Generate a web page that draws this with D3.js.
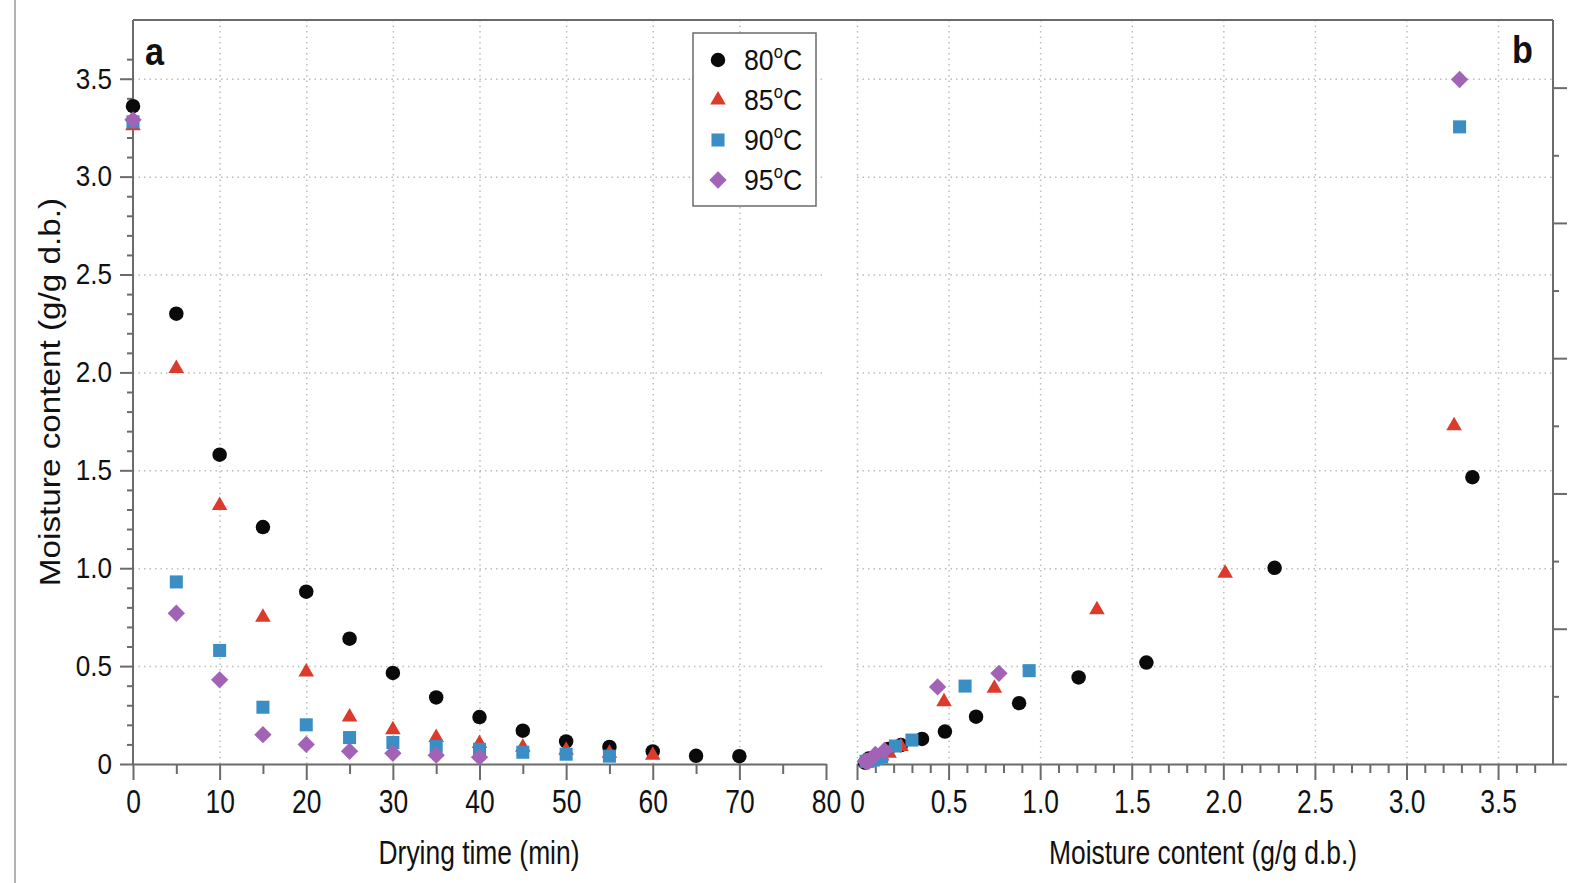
<!DOCTYPE html>
<html>
<head>
<meta charset="utf-8">
<script src="https://cdn.jsdelivr.net/npm/d3@7"></script>
<style>
  body { margin: 0; background: #fff; }
  svg text { font-family: "Liberation Sans", Arial, Helvetica, sans-serif; fill: #111; }
  .grid line { stroke: #bdbdbd; stroke-width: 1.5; stroke-dasharray: 1.5 4; }
  .grid path { display: none; }
  .axis path, .axis line { stroke: #6b6b6b; stroke-width: 2; }
</style>
</head>
<body>
<div id="chart"></div>
<script>
// ---- data ----
// panel a: moisture content vs drying time
const time80 = [0, 5, 10, 15, 20, 25, 30, 35, 40, 45, 50, 55, 60, 65, 70];
const mc80 = [3.36, 2.30, 1.58, 1.21, 0.88, 0.64, 0.465, 0.34, 0.24, 0.17, 0.115, 0.087, 0.064, 0.042, 0.040];
const time85 = [0, 5, 10, 15, 20, 25, 30, 35, 40, 45, 50, 55, 60];
const mc85 = [3.26, 2.02, 1.32, 0.75, 0.47, 0.24, 0.175, 0.135, 0.105, 0.085, 0.07, 0.055, 0.045];
const time90 = [0, 5, 10, 15, 20, 25, 30, 35, 40, 45, 50, 55];
const mc90 = [3.28, 0.93, 0.58, 0.29, 0.20, 0.135, 0.11, 0.09, 0.075, 0.06, 0.05, 0.04];
const time95 = [0, 5, 10, 15, 20, 25, 30, 35, 40];
const mc95 = [3.29, 0.77, 0.43, 0.15, 0.10, 0.065, 0.055, 0.045, 0.035];

// panel b: drying rate vs moisture content
const mcB80 = [3.36, 2.28, 1.58, 1.21, 0.885, 0.65, 0.48, 0.355, 0.24, 0.17, 0.115, 0.087, 0.064, 0.044];
const rate80 = [0.212, 0.145, 0.075, 0.064, 0.045, 0.035, 0.024, 0.0185, 0.014, 0.011, 0.006, 0.0045, 0.004, 0.001];
const mcB85 = [3.26, 2.01, 1.31, 0.75, 0.475, 0.24, 0.175, 0.135, 0.105, 0.085, 0.07, 0.055];
const rate85 = [0.250, 0.141, 0.114, 0.056, 0.046, 0.013, 0.008, 0.006, 0.004, 0.003, 0.003, 0.002];
const mcB90 = [3.29, 0.94, 0.59, 0.30, 0.21, 0.135, 0.11, 0.09, 0.075, 0.06, 0.05];
const rate90 = [0.471, 0.069, 0.0576, 0.0177, 0.0133, 0.005, 0.004, 0.003, 0.003, 0.002, 0.002];
const mcB95 = [3.29, 0.775, 0.44, 0.15, 0.10, 0.065, 0.055, 0.045];
const rate95 = [0.506, 0.067, 0.057, 0.010, 0.007, 0.002, 0.002, 0.002];

const seriesNames = ["80", "85", "90", "95"];
const colors = ["#0a0a0a", "#dc3a2b", "#3b8ec4", "#a263b7"];

const width = 1571, height = 883;
const svg = d3.select("#chart").append("svg")
    .attr("width", width)
    .attr("height", height);

// frame line on the far left of the figure
svg.append("line").attr("x1", 15).attr("x2", 15).attr("y1", 0).attr("y2", height)
    .attr("stroke", "#9a9a9a").attr("stroke-width", 1.5);

const plotTop = 20, plotBottom = 764;

// scales
const xA = d3.scaleLinear().domain([0, 80]).range([133, 826]);
const yA = d3.scaleLinear().domain([0, 3.8]).range([plotBottom, plotTop]);
const xB = d3.scaleLinear().domain([0, 3.8]).range([857, 1553]);
const yB = d3.scaleLinear().domain([0, 0.55]).range([plotBottom, plotTop]);

const fmt1 = d => d === 0 ? "0" : d3.format(".1f")(d);
const gridY = [0.5, 1, 1.5, 2, 2.5, 3, 3.5];

// the figure's type is narrow, squeeze text horizontally
function squeeze(sel, size, k) {
  sel.style("font-size", size + "px").each(function() {
    const t = d3.select(this);
    const x = +t.attr("x") || 0;
    t.attr("x", x / k).attr("transform", `scale(${k},1)`);
  });
}

// ---- grid lines ----
svg.append("g").attr("class", "grid")
    .attr("transform", `translate(0,${plotTop})`)
    .call(d3.axisBottom(xA).tickValues([10, 20, 30, 40, 50, 60, 70]).tickSize(plotBottom - plotTop).tickFormat(""));
svg.append("g").attr("class", "grid")
    .attr("transform", `translate(${xA.range()[0]},0)`)
    .call(d3.axisRight(yA).tickValues(gridY).tickSize(xA.range()[1] - xA.range()[0]).tickFormat(""));
svg.append("g").attr("class", "grid")
    .attr("transform", `translate(0,${plotTop})`)
    .call(d3.axisBottom(xB).tickValues([0, 0.5, 1, 1.5, 2, 2.5, 3, 3.5]).tickSize(plotBottom - plotTop).tickFormat(""));
svg.append("g").attr("class", "grid")
    .attr("transform", `translate(${xB.range()[0]},0)`)
    .call(d3.axisRight(yA).tickValues(gridY).tickSize(xB.range()[1] - xB.range()[0]).tickFormat(""));

// ---- axes ----
function styleTicks(g, isMajor, majorLen, minorLen, dir) {
  g.selectAll(".tick line").each(function(d) {
    const len = isMajor(d) ? majorLen : minorLen;
    const l = d3.select(this);
    if (dir === "x") l.attr("y2", len);
    else l.attr("x2", dir === "left" ? -len : len);
  });
  g.selectAll(".tick text").filter(d => !isMajor(d)).remove();
}
const near = (d, step) => Math.abs(d / step - Math.round(d / step)) < 1e-6;

// panel a, bottom
const gxA = svg.append("g").attr("class", "axis")
    .attr("transform", `translate(0,${plotBottom})`)
    .call(d3.axisBottom(xA).tickValues(d3.range(0, 81, 5)).tickSizeOuter(0).tickPadding(20).tickFormat(d3.format("d")));
styleTicks(gxA, d => near(d, 10), 16, 10, "x");
squeeze(gxA.selectAll(".tick text"), 33, 0.8);

// panel a, left
const gyA = svg.append("g").attr("class", "axis")
    .attr("transform", `translate(${xA.range()[0]},0)`)
    .call(d3.axisLeft(yA).tickValues(d3.range(0, 37).map(i => i / 10)).tickSizeOuter(0).tickPadding(15).tickFormat(fmt1));
styleTicks(gyA, d => near(d, 0.5), 13, 6, "left");
gyA.select(".domain").attr("d", `M0,${plotBottom}V${plotTop}`);
squeeze(gyA.selectAll(".tick text"), 29, 0.9);

// panel b, bottom
const gxB = svg.append("g").attr("class", "axis")
    .attr("transform", `translate(0,${plotBottom})`)
    .call(d3.axisBottom(xB).tickValues(d3.range(0, 38).map(i => i / 10)).tickSizeOuter(0).tickPadding(20).tickFormat(fmt1));
styleTicks(gxB, d => near(d, 0.5), 16, 9, "x");
squeeze(gxB.selectAll(".tick text"), 33, 0.8);

// panel b, right (labels fall outside the figure)
const gyB = svg.append("g").attr("class", "axis")
    .attr("transform", `translate(${xB.range()[1]},0)`)
    .call(d3.axisRight(yB).tickValues(d3.range(0, 11).map(i => i / 20)).tickSizeOuter(0).tickFormat(""));
styleTicks(gyB, d => near(d, 0.1), 14, 6, "right");
gyB.select(".domain").attr("d", `M0,${plotBottom}V${plotTop}`);

// top border across both panels
svg.append("line").attr("x1", xA.range()[0]).attr("x2", xB.range()[1])
    .attr("y1", plotTop).attr("y2", plotTop)
    .attr("stroke", "#6b6b6b").attr("stroke-width", 2);

svg.selectAll(".axis .tick text").attr("fill", "#111");

// ---- symbols ----
const shapes = [
  d3.symbol().type(d3.symbolCircle).size(165),
  d3.symbol().type(d3.symbolTriangle).size(105),
  d3.symbol().type(d3.symbolSquare).size(170),
  d3.symbol().type(d3.symbolSquare).size(150)
];
const rotations = [0, 0, 0, 45];

const seriesA = [[time80, mc80], [time85, mc85], [time90, mc90], [time95, mc95]];
const seriesB = [[mcB80, rate80], [mcB85, rate85], [mcB90, rate90], [mcB95, rate95]];

function drawPoints(series, xs, ys) {
  series.forEach((s, i) => {
    const pts = s[0].map((v, j) => [v, s[1][j]]);
    svg.append("g").selectAll("path")
      .data(pts)
      .enter()
      .append("path")
      .attr("d", shapes[i])
      .attr("transform", d => `translate(${xs(d[0])},${ys(d[1])}) rotate(${rotations[i]})`)
      .attr("fill", colors[i]);
  });
}
drawPoints(seriesA, xA, yA);
drawPoints(seriesB, xB, yB);

// ---- legend ----
const legend = svg.append("g");
legend.append("rect")
    .attr("x", 693).attr("y", 33).attr("width", 123).attr("height", 173)
    .attr("fill", "#fff").attr("stroke", "#6b6b6b").attr("stroke-width", 1.5);
seriesNames.forEach((name, i) => {
  const cy = 60 + i * 40;
  legend.append("path")
      .attr("d", shapes[i])
      .attr("transform", `translate(718,${cy}) rotate(${rotations[i]})`)
      .attr("fill", colors[i]);
  const t = legend.append("text")
      .attr("transform", `translate(744,${cy + 10}) scale(0.92,1)`)
      .style("font-size", "29px");
  t.append("tspan").text(name);
  t.append("tspan").attr("dy", -12).style("font-size", "18px").text("o");
  t.append("tspan").attr("dy", 12).text("C");
});

// ---- panel letters and titles ----
svg.append("text").attr("transform", "translate(145,65) scale(0.9,1)")
    .style("font-size", "38px").style("font-weight", "bold").text("a");
svg.append("text").attr("transform", "translate(1512,63) scale(0.9,1)")
    .style("font-size", "38px").style("font-weight", "bold").text("b");

svg.append("text").attr("transform", "translate(479,864) scale(0.8,1)").attr("text-anchor", "middle")
    .style("font-size", "33px").text("Drying time (min)");
svg.append("text").attr("transform", "translate(1203,864) scale(0.8,1)").attr("text-anchor", "middle")
    .style("font-size", "33px").text("Moisture content (g/g d.b.)");
svg.append("text").attr("transform", "translate(60,392) rotate(-90) scale(1.04,0.95)").attr("text-anchor", "middle")
    .style("font-size", "32px").text("Moisture content (g/g d.b.)");
</script>
</body>
</html>
